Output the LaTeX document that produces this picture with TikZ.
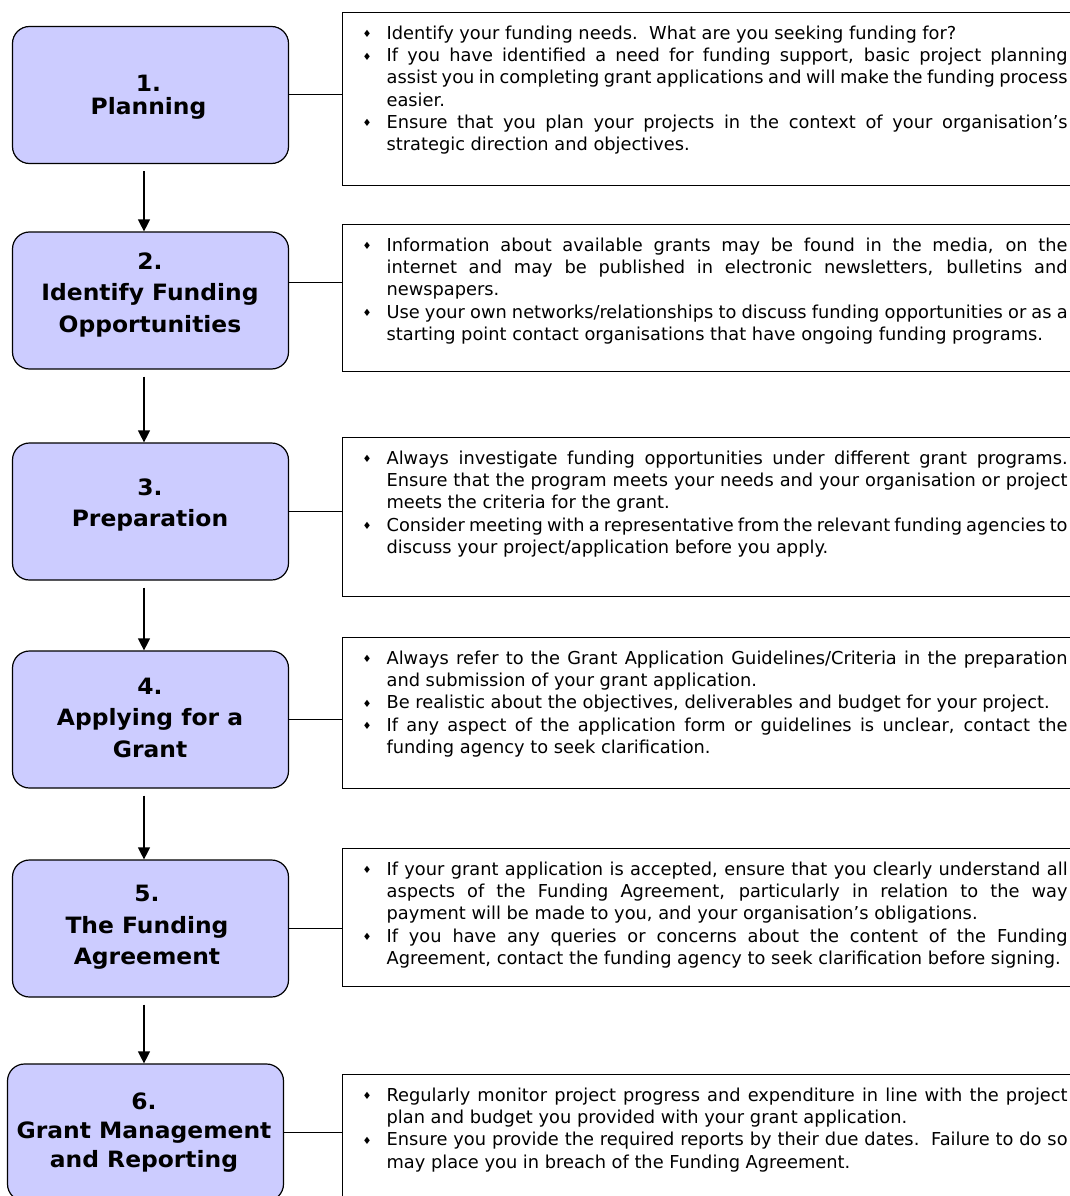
\documentclass[tikz,border=0pt]{standalone}
\usepackage{fontspec}
\setmainfont{DejaVu Sans}
\newfontfamily\titlefont[FakeStretch=1.04]{DejaVu Sans}
\newfontfamily\notefont{DejaVu Sans}
\usetikzlibrary{arrows.meta}
\definecolor{stepfill}{RGB}{204,204,255}

% text of a note box: height, then the points
\newcommand{\notelines}[2]{%
  \hspace*{20pt}\parbox[t][#1][t]{705pt}{\vspace*{11pt}%
    \notefont\fontsize{17.8}{22.3}\selectfont
    \emergencystretch=2em\hyphenpenalty=10000\hbadness=10000 #2}\hspace*{12pt}}
\newcommand{\point}[1]{\par\noindent\hangindent=24pt\hangafter=1%
  \strut\makebox[24pt][l]{\raisebox{1.5pt}{\fontsize{10}{10}\selectfont ♦}}#1\par}

\begin{document}
\begin{tikzpicture}[x=1pt, y=-1pt,
    stepbox/.style = {draw, line width=1.2pt, fill=stepfill, rounded corners=17pt,
      minimum width=276pt, minimum height=137pt, inner sep=0pt},
    steptitle/.style = {font=\titlefont\bfseries\fontsize{22.5}{31.5}\selectfont,
      align=center, inner sep=0pt},
    notebox/.style = {draw, line width=1.2pt, anchor=north west, inner sep=0pt},
    flow/.style = {line width=1.2pt, -{Triangle[length=12pt,width=12pt]}},
    link/.style = {line width=1pt}
    ]
    \path[fill=white, use as bounding box] (0,0) rectangle (1069,1196);

    % steps
    \node[stepbox] (s1) at (150.5,95) {};
    \node[stepbox] (s2) at (150.5,300.5) {};
    \node[stepbox] (s3) at (150.5,511.5) {};
    \node[stepbox] (s4) at (150.5,719.5) {};
    \node[stepbox] (s5) at (150.5,928.5) {};
    \node[stepbox] (s6) at (145.5,1132.5) {};

    \node[steptitle, font=\titlefont\bfseries\fontsize{22.5}{22.5}\selectfont]
      (t1) at (148.5,97) {1.\\Planning};
    \node[steptitle] (t2) at (150,294.5) {2.\\Identify Funding\\Opportunities};
    \node[steptitle] (t3) at (150,505) {3.\\Preparation};
    \node[steptitle] (t4) at (150,717.5) {4.\\Applying for a\\Grant};
    \node[steptitle] (t5) at (147,927.5) {5.\\The Funding\\Agreement};
    \node[steptitle, font=\titlefont\bfseries\fontsize{22.5}{29}\selectfont]
      (t6) at (144,1132.5) {6.\\Grant Management\\and Reporting};

    % notes
    \node[notebox] (n1) at (342,12) {\notelines{173pt}{%
      \point{Identify your funding needs.\ \ What are you seeking funding for?}
      \point{If you have identified a need for funding support, basic project planning\linebreak
        assist you in completing grant applications and will make the funding process\linebreak
        easier.}
      \point{Ensure that you plan your projects in the context of your organisation’s\linebreak
        strategic direction and objectives.}}};
    \node[notebox] (n2) at (342,224) {\notelines{147pt}{%
      \point{Information about available grants may be found in the media, on the\linebreak
        internet and may be published in electronic newsletters, bulletins and\linebreak
        newspapers.}
      \point{Use your own networks/relationships to discuss funding opportunities or as a\linebreak
        starting point contact organisations that have ongoing funding programs.}}};
    \node[notebox] (n3) at (342,437) {\notelines{159pt}{%
      \point{Always investigate funding opportunities under different grant programs.\linebreak
        Ensure that the program meets your needs and your organisation or project\linebreak
        meets the criteria for the grant.}
      \point{Consider meeting with a representative from the relevant funding agencies to\linebreak
        discuss your project/application before you apply.}}};
    \node[notebox] (n4) at (342,637) {\notelines{151pt}{%
      \point{Always refer to the Grant Application Guidelines/Criteria in the preparation\linebreak
        and submission of your grant application.}
      \point{Be realistic about the objectives, deliverables and budget for your project.}
      \point{If any aspect of the application form or guidelines is unclear, contact the\linebreak
        funding agency to seek clarification.}}};
    \node[notebox] (n5) at (342,848) {\notelines{138pt}{%
      \point{If your grant application is accepted, ensure that you clearly understand all\linebreak
        aspects of the Funding Agreement, particularly in relation to the way\linebreak
        payment will be made to you, and your organisation’s obligations.}
      \point{If you have any queries or concerns about the content of the Funding\linebreak
        Agreement, contact the funding agency to seek clarification before signing.}}};
    \node[notebox] (n6) at (342,1074) {\notelines{170pt}{%
      \point{Regularly monitor project progress and expenditure in line with the project\linebreak
        plan and budget you provided with your grant application.}
      \point{Ensure you provide the required reports by their due dates.\ \ Failure to do so\linebreak
        may place you in breach of the Funding Agreement.}}};

    % connectors
    \foreach \a/\b in {s1/s2, s2/s3, s3/s4, s4/s5}
      \draw[flow] ([xshift=-6.5pt, yshift=-7pt]\a.south) -- ([xshift=-6.5pt]\b.north);
    \draw[flow] ([xshift=-6.5pt, yshift=-7pt]s5.south) -- ([xshift=-1.5pt]s6.north);

    \draw[link] (s1.east) -- (s1.east -| n1.west);
    \draw[link] ([yshift=18.5pt]s2.east) -- ([yshift=18.5pt]s2.east -| n2.west);
    \foreach \i in {3,...,6}
      \draw[link] (s\i.east) -- (s\i.east -| n\i.west);
\end{tikzpicture}
\end{document}
